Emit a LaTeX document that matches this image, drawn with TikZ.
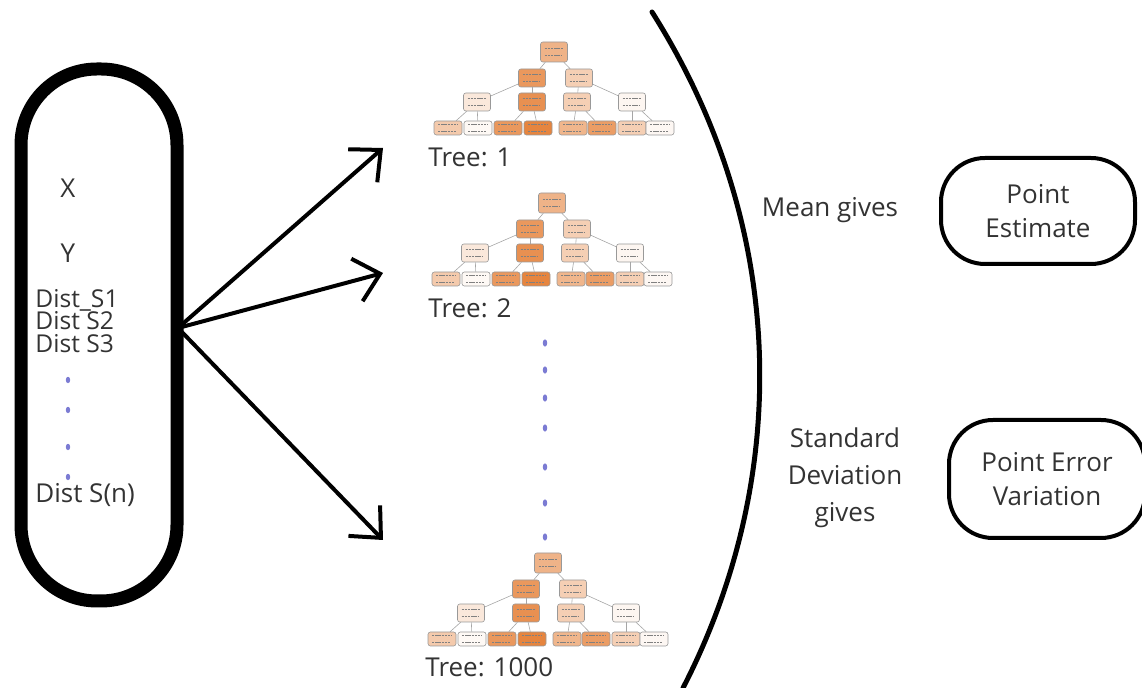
\documentclass[tikz,border=0pt]{standalone}
\usepackage{fontspec}
\setmainfont{Open Sans}
\usetikzlibrary{arrows.meta,calc}

\definecolor{dtorange}{HTML}{E58139}
\definecolor{dotblue}{HTML}{5A5AC8}
\definecolor{inkgray}{HTML}{333333}

% one small decision tree, #1 = name prefix, (#2,#3) = root
\newcommand{\minitree}[3]{%
	\begin{scope}[shift={(#2,#3)}]
		\node (#1r) at (0,0) [tnode,fill=dtorange!60,minimum height=10pt] {};
		\node (#1a) at (-22,26) [tnode,fill=dtorange!82] {};
		\node (#1b) at (25,26) [tnode,fill=dtorange!38] {};
		\node (#1c) at (-77,50) [tnode,fill=dtorange!18] {};
		\node (#1d) at (-22,50) [tnode,fill=dtorange!88] {};
		\node (#1e) at (23,50) [tnode,fill=dtorange!38] {};
		\node (#1f) at (78,50) [tnode,fill=dtorange!7] {};
		\node (#1g1) at (-106,76) [leaf,fill=dtorange!42] {};
		\node (#1g2) at (-76,76) [leaf,fill=dtorange!5] {};
		\node (#1g3) at (-46,76) [leaf,fill=dtorange!82] {};
		\node (#1g4) at (-16,76) [leaf,fill=dtorange!97] {};
		\node (#1g5) at (19,76) [leaf,fill=dtorange!58] {};
		\node (#1g6) at (48,76) [leaf,fill=dtorange!78] {};
		\node (#1g7) at (78,76) [leaf,fill=dtorange!38] {};
		\node (#1g8) at (106,76) [leaf,fill=dtorange!6] {};
		\path
		(#1r) edge [tedge] (#1a)
		(#1r) edge [tedge] (#1b)
		(#1a) edge [tedge] (#1c)
		(#1a) edge [tedge] (#1d)
		(#1b) edge [tedge] (#1e)
		(#1b) edge [tedge] (#1f)
		(#1c) edge [tedge] (#1g1)
		(#1c) edge [tedge] (#1g2)
		(#1d) edge [tedge] (#1g3)
		(#1d) edge [tedge] (#1g4)
		(#1e) edge [tedge] (#1g5)
		(#1e) edge [tedge] (#1g6)
		(#1f) edge [tedge] (#1g7)
		(#1f) edge [tedge] (#1g8);
	\end{scope}}

\begin{document}
\begin{tikzpicture}[x=0.5pt,y=-0.5pt]
	\tikzset{
		lbl/.style={text=inkgray,font=\fontsize{13}{16}\selectfont,inner sep=0pt},
		tnode/.style={draw=black!40,line width=0.3pt,rounded corners=1.2pt,minimum width=13.5pt,minimum height=9pt,inner sep=0pt,
			path picture={\draw[black!50,line width=0.4pt,dash pattern=on 1.2pt off 0.4pt]
				([shift={(2pt,1.6pt)}]path picture bounding box.west) -- ([shift={(-2pt,1.6pt)}]path picture bounding box.east)
				([shift={(2pt,-1.6pt)}]path picture bounding box.west) -- ([shift={(-3pt,-1.6pt)}]path picture bounding box.east);}},
		leaf/.style={tnode,minimum width=14pt,minimum height=7pt},
		tedge/.style={draw=black!35,line width=0.3pt},
		fork/.style={-{Straight Barb[length=12pt,width=22pt]},line width=2pt},
		dot/.style={fill=dotblue,opacity=0.8},
		result/.style={draw,line width=2pt,rounded corners=22pt,align=center,text=inkgray,font=\fontsize{13}{17}\selectfont}
	}
	\useasboundingbox (0,0) rectangle (1142,688);

	% input features
	\node (data) at (99,335) [draw,line width=6.5pt,rounded corners=38pt,minimum width=78pt,minimum height=266pt] {};
	\node (x) at (68,188) [lbl] {X};
	\node (y) at (68,253) [lbl] {Y};
	\node (s1) at (35,321) [lbl,anchor=west,align=left,font=\fontsize{12.3}{11.4}\selectfont] {Dist\_S1\\Dist S2\\Dist S3};
	\node (sn) at (35,495) [lbl,anchor=west] {Dist S(n)};
	\foreach \y in {380,410,447,477}
		\fill[dot] (68,\y) ellipse (1.1pt and 1.6pt);

	% forest
	\minitree{p}{554}{52}
	\minitree{q}{552}{203}
	\minitree{w}{548}{563}
	\node (t1) at (428,157) [lbl,anchor=west] {Tree: 1};
	\node (t2) at (428,308) [lbl,anchor=west] {Tree: 2};
	\node (t3) at (425,667) [lbl,anchor=west] {Tree: 1000};
	\foreach \y in {343,370,398,428,467,503,537}
		\fill[dot] (545,\y) ellipse (1.1pt and 1.8pt);

	\coordinate (fork) at (178,328);
	\coordinate (in1) at (383,148);
	\coordinate (in2) at (383,273);
	\coordinate (in3) at (383,540);
	\path
	(fork) edge [fork] (in1)
	(fork) edge [fork] (in2)
	(fork) edge [fork] (in3);

	% aggregation
	\draw[line width=2.5pt,line cap=round] (652,12) .. controls (790,230) and (790,480) .. (683,688);

	\node (mean) at (830,210) [lbl] {Mean gives};
	\node (sd) at (845,478) [lbl,align=center,font=\fontsize{13}{18.5}\selectfont] {Standard\\Deviation\\gives};
	\node (est) at (1038,211) [result,minimum width=97pt,minimum height=53pt] {Point\\Estimate};
	\node (err) at (1047,479) [result,minimum width=98pt,minimum height=59pt] {Point Error\\Variation};
\end{tikzpicture}
\end{document}
